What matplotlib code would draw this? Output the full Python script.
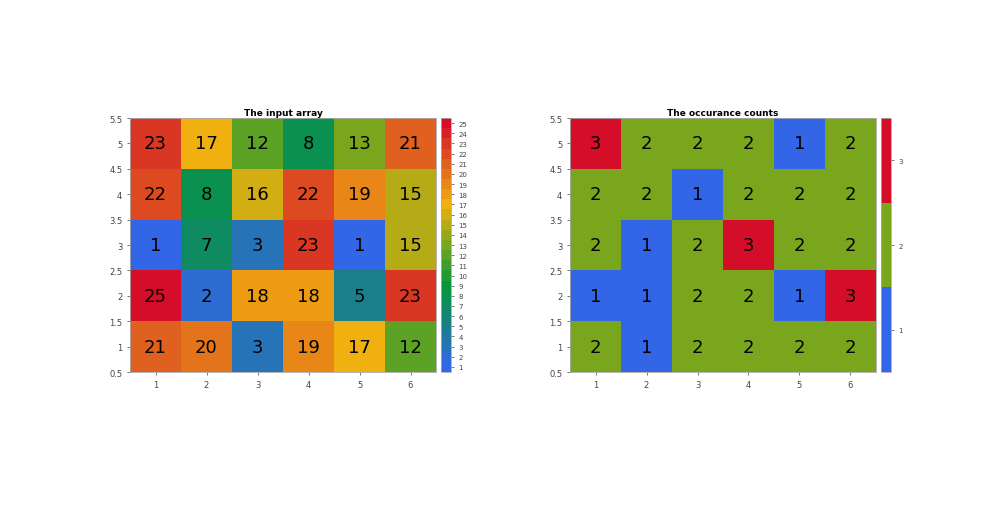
import numpy as np
import matplotlib.pyplot as plt
from matplotlib.colors import LinearSegmentedColormap, ListedColormap, BoundaryNorm

# rows listed from y=1 (bottom) to y=5 (top)
input_array = [
    [21, 20, 3, 19, 17, 12],
    [25, 2, 18, 18, 5, 23],
    [1, 7, 3, 23, 1, 15],
    [22, 8, 16, 22, 19, 15],
    [23, 17, 12, 8, 13, 21],
]
counts = [
    [2, 1, 2, 2, 2, 2],
    [1, 1, 2, 2, 1, 3],
    [2, 1, 2, 3, 2, 2],
    [2, 2, 1, 2, 2, 2],
    [3, 2, 2, 2, 1, 2],
]
x_ticks = [1, 2, 3, 4, 5, 6]
y_ticks = [0.5, 1, 1.5, 2, 2.5, 3, 3.5, 4, 4.5, 5, 5.5]

anchors = [(0.20, 0.40, 0.90), (0.10, 0.50, 0.54), (0.02, 0.59, 0.23),
           (0.47, 0.65, 0.11), (0.94, 0.69, 0.06), (0.88, 0.38, 0.12),
           (0.83, 0.05, 0.16)]
base = LinearSegmentedColormap.from_list('base', anchors)
cmap_in = ListedColormap(base(np.linspace(0, 1, 25)))
cmap_ct = ListedColormap(base(np.linspace(0, 1, 3)))

fig = plt.figure(figsize=(10, 5.1), dpi=100)


def panel(x0, data, cmap, vmin, vmax, title, cticks):
    ax = fig.add_axes([x0, 0.2686, 0.306, 0.498])
    cax = fig.add_axes([x0 + 0.311, 0.2686, 0.010, 0.498])
    arr = np.array(data)
    bounds = np.arange(vmin - 0.5, vmax + 1, 1)
    norm = BoundaryNorm(bounds, cmap.N)
    xe = np.arange(0.5, arr.shape[1] + 1, 1)
    ye = np.arange(0.5, arr.shape[0] + 1, 1)
    m = ax.pcolormesh(xe, ye, arr, cmap=cmap, norm=norm)
    for i in range(arr.shape[0]):
        for j in range(arr.shape[1]):
            ax.text(j + 1, i + 1, str(arr[i, j]), ha='center', va='center',
                    fontsize=13, color='black')
    ax.set_xlim(0.5, 6.5)
    ax.set_ylim(0.5, 5.5)
    ax.set_xticks(x_ticks)
    ax.set_yticks(y_ticks)
    ax.set_yticklabels([f'{v:g}' for v in y_ticks])
    ax.tick_params(labelsize=6, colors='#444444', length=2, width=0.5)
    for s in ax.spines.values():
        s.set_color('#aaaaaa')
        s.set_linewidth(0.6)
    ax.set_title(title, fontsize=6.5, fontweight='bold', pad=2)
    cb = fig.colorbar(m, cax=cax, ticks=cticks)
    cb.ax.minorticks_off()
    cb.ax.tick_params(labelsize=5, colors='#444444', length=2, width=0.5)
    cb.outline.set_edgecolor('#aaaaaa')
    cb.outline.set_linewidth(0.6)


panel(0.13, input_array, cmap_in, 1, 25, 'The input array', list(range(1, 26)))
panel(0.57, counts, cmap_ct, 1, 3, 'The occurance counts', [1, 2, 3])

fig.savefig('out.png', dpi=100)
